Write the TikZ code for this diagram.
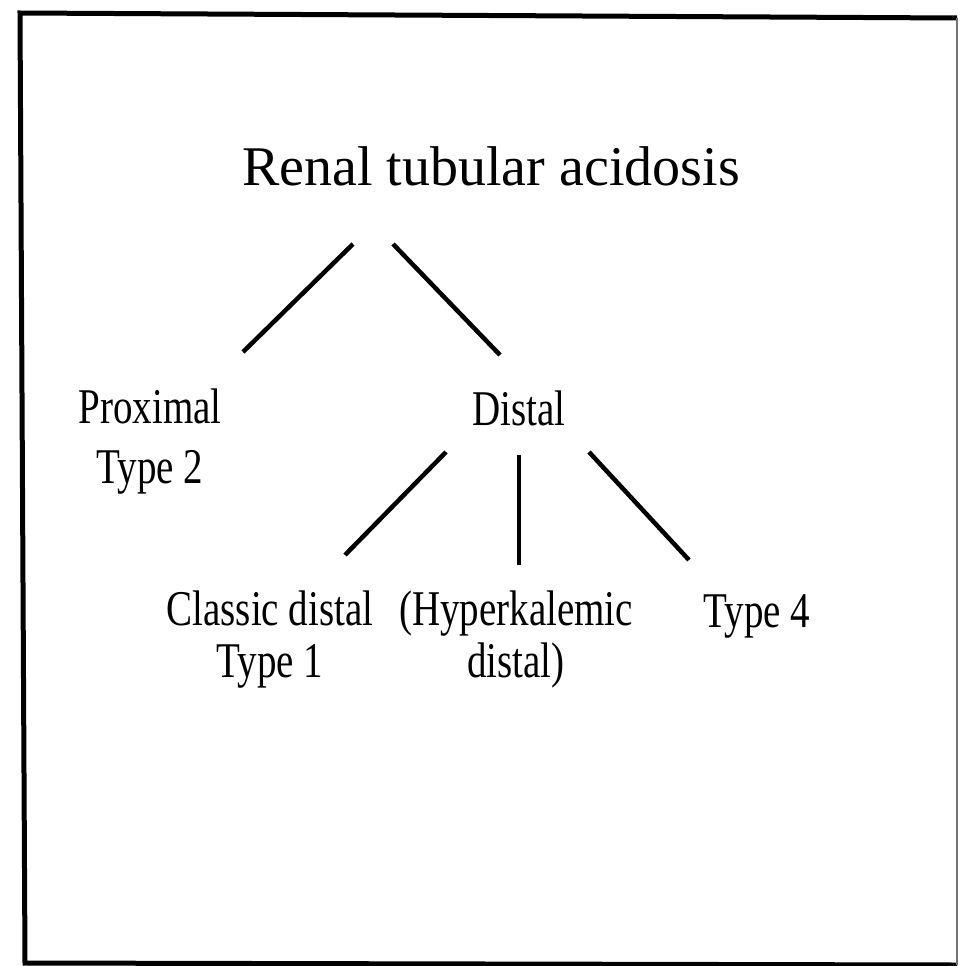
\documentclass[tikz,border=0pt]{standalone}
\usepackage{fontspec}
\setmainfont{Liberation Serif}
\newfontfamily\narrowserif{Liberation Serif}[FakeStretch=0.78]
\usepackage{tikz}
\usetikzlibrary{positioning, calc}

\begin{document}
\begin{tikzpicture}[
    x=1pt, y=-1pt,
    heading/.style={inner sep=0pt, anchor=base, font=\fontsize{56}{60}\selectfont},
    leaf/.style={inner sep=0pt, anchor=base, align=center, font=\narrowserif\fontsize{50}{52}\selectfont},
    branch/.style={line width=4.5pt, black}
]
\useasboundingbox (0,0) rectangle (960,966);

% frame
\draw[line width=5pt] (957,18) -- (20,13) -- (25,963) -- (957,965);
\draw[line width=2pt, black!55] (957,18) -- (957,965);

% root
\node[heading] (rta) at (491,185) {Renal tubular acidosis};

% first level
\node[leaf, font=\narrowserif\fontsize{50}{60}\selectfont] (prox) at (150,483) {Proximal\\Type 2};
\node[leaf] (distal) at (519,425) {Distal};

% second level
\node[leaf] (classic) at (270,677) {Classic distal\\Type 1};
\node[leaf] (hyper) at (516,677) {(Hyperkalemic\\distal)};
\node[leaf] (typefour) at (757,627) {Type 4};

% branches
\draw[branch] ($(rta.base)+(-138,59)$) -- ($(prox.base)+(93,-131)$);
\draw[branch] ($(rta.base)+(-98,59)$) -- ($(distal.base)+(-19,-70)$);
\draw[branch] ($(distal.base)+(-73,27)$) -- ($(classic.base)+(75,-122)$);
\draw[branch] ($(distal.base)+(0,30)$) -- ($(hyper.base)+(3,-112)$);
\draw[branch] ($(distal.base)+(70,27)$) -- ($(typefour.base)+(-68,-67)$);

\end{tikzpicture}
\end{document}
